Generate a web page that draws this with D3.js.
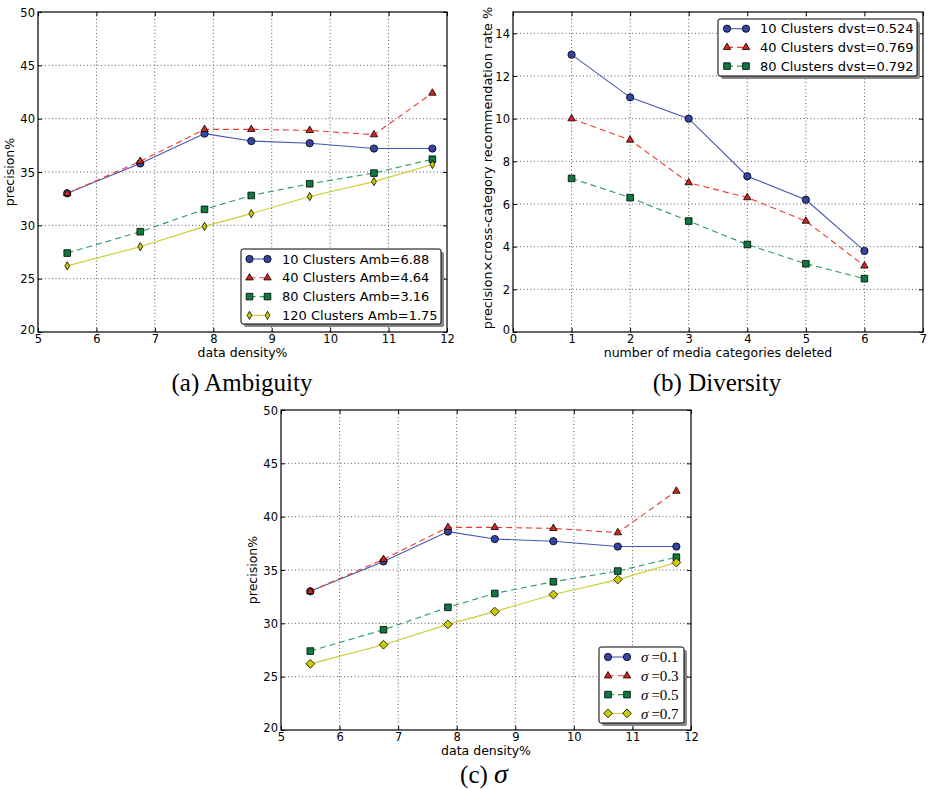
<!DOCTYPE html>
<html>
<head>
<meta charset="utf-8">
<script src="https://cdn.jsdelivr.net/npm/d3@7"></script>
<style>
  html, body { margin: 0; padding: 0; background: #fff; }
  svg { display: block; }
  .tick text { font-family: "DejaVu Sans", sans-serif; }
</style>
</head>
<body>
<svg id="chart" width="929" height="789"></svg>
<script>
// ---------- data ----------
const xDensity = [5.5, 6.75, 7.85, 8.65, 9.65, 10.75, 11.75];
const prec10 = [33.0, 35.8, 38.6, 37.9, 37.7, 37.2, 37.2];
const prec40 = [33.0, 36.0, 39.0, 39.0, 38.9, 38.5, 42.4];
const prec80 = [27.4, 29.4, 31.5, 32.8, 33.9, 34.9, 36.2];
const prec120 = [26.2, 28.0, 29.9, 31.1, 32.7, 34.1, 35.7];

const xDeleted = [1, 2, 3, 4, 5, 6];
const div10 = [13.0, 11.0, 10.0, 7.3, 6.2, 3.8];
const div40 = [10.0, 9.0, 7.0, 6.3, 5.2, 3.1];
const div80 = [7.2, 6.3, 5.2, 4.1, 3.2, 2.5];

const sig01 = [33.0, 35.8, 38.6, 37.9, 37.7, 37.2, 37.2];
const sig03 = [33.0, 36.0, 39.0, 39.0, 38.9, 38.5, 42.4];
const sig05 = [27.4, 29.4, 31.5, 32.8, 33.9, 34.9, 36.2];
const sig07 = [26.2, 28.0, 29.9, 31.1, 32.7, 34.1, 35.7];

const ticksDensity = [5, 6, 7, 8, 9, 10, 11, 12];
const ticksPrec = [20, 25, 30, 35, 40, 45, 50];
const ticksDeleted = [0, 1, 2, 3, 4, 5, 6, 7];
const ticksDiv = [0, 2, 4, 6, 8, 10, 12, 14];

const labelsA = ["10 Clusters Amb=6.88", "40 Clusters Amb=4.64", "80 Clusters Amb=3.16", "120 Clusters Amb=1.75"];
const labelsB = ["10 Clusters dvst=0.524", "40 Clusters dvst=0.769", "80 Clusters dvst=0.792"];
const labelsC = ["0.1", "0.3", "0.5", "0.7"];

// ---------- styles ----------
const thinDiamond = {
  draw(ctx, size) {
    const h = Math.sqrt(size) * 0.62, w = h * 0.58;
    ctx.moveTo(0, -h); ctx.lineTo(w, 0); ctx.lineTo(0, h); ctx.lineTo(-w, 0); ctx.closePath();
  }
};
const squareDiamond = {
  draw(ctx, size) {
    const h = Math.sqrt(size) * 0.62;
    ctx.moveTo(0, -h); ctx.lineTo(h, 0); ctx.lineTo(0, h); ctx.lineTo(-h, 0); ctx.closePath();
  }
};
const S = {
  blue:   { line: "#4656b4", fill: "#3444a6", dash: null,  sym: d3.symbolCircle,   size: 42 },
  red:    { line: "#ee3b33", fill: "#d8231a", dash: "6,4", sym: d3.symbolTriangle, size: 24 },
  green:  { line: "#2b9a5e", fill: "#0b7a3c", dash: "6,4", sym: d3.symbolSquare,   size: 44 },
  yellowThin: { line: "#cccc30", fill: "#cccc00", dash: null, sym: thinDiamond,    size: 44 },
  yellow: { line: "#cccc30", fill: "#cccc00", dash: null,  sym: squareDiamond,    size: 50 }
};

const svg = d3.select("#chart");

function panel(opt) {
  const g = svg.append("g");
  const x = d3.scaleLinear().domain(opt.xDomain).range([opt.left, opt.right]);
  const y = d3.scaleLinear().domain(opt.yDomain).range([opt.bottom, opt.top]);
  const fmt = d3.format("d");

  // grid
  const grid = g.append("g").attr("stroke", "#333").attr("stroke-width", 0.8).attr("stroke-dasharray", "1,2.5");
  opt.xTicks.forEach(t => {
    if (t === opt.xDomain[0] || t === opt.xDomain[1]) return;
    grid.append("line").attr("x1", x(t)).attr("x2", x(t)).attr("y1", opt.top).attr("y2", opt.bottom);
  });
  opt.yTicks.forEach(t => {
    if (t === opt.yDomain[0] || t === opt.yDomain[1]) return;
    grid.append("line").attr("x1", opt.left).attr("x2", opt.right).attr("y1", y(t)).attr("y2", y(t));
  });

  // axes with inward ticks on all four sides
  const fs = "11.5px";
  const bottomAx = g.append("g").attr("transform", `translate(0,${opt.bottom})`)
    .call(d3.axisBottom(x).tickValues(opt.xTicks).tickFormat(fmt).tickSizeInner(-4).tickSizeOuter(0).tickPadding(3));
  const topAx = g.append("g").attr("transform", `translate(0,${opt.top})`)
    .call(d3.axisTop(x).tickValues(opt.xTicks).tickSizeInner(-4).tickSizeOuter(0).tickFormat(""));
  const leftAx = g.append("g").attr("transform", `translate(${opt.left},0)`)
    .call(d3.axisLeft(y).tickValues(opt.yTicks).tickFormat(fmt).tickSizeInner(-4).tickSizeOuter(0).tickPadding(3));
  const rightAx = g.append("g").attr("transform", `translate(${opt.right},0)`)
    .call(d3.axisRight(y).tickValues(opt.yTicks).tickSizeInner(-4).tickSizeOuter(0).tickFormat(""));
  [bottomAx, topAx, leftAx, rightAx].forEach(a => {
    a.select(".domain").remove();
    a.selectAll(".tick line").attr("stroke", "#000").attr("stroke-width", 1);
    a.selectAll(".tick text").attr("font-size", fs).attr("fill", "#000");
  });
  leftAx.selectAll(".tick text").attr("dy", "0.35em");
  leftAx.selectAll(".tick").filter(d => d === opt.yDomain[0]).select("text").attr("dy", "0.1em");

  // frame
  g.append("rect").attr("x", opt.left).attr("y", opt.top)
    .attr("width", opt.right - opt.left).attr("height", opt.bottom - opt.top)
    .attr("fill", "none").attr("stroke", "#000").attr("stroke-width", 1.2);

  // series
  const line = d3.line().x(d => x(d[0])).y(d => y(d[1]));
  opt.series.forEach(s => {
    const pts = opt.xs.map((xv, i) => [xv, s.values[i]]);
    g.append("path").datum(pts).attr("d", line).attr("fill", "none")
      .attr("stroke", s.st.line).attr("stroke-width", 1.1)
      .attr("stroke-dasharray", s.st.dash);
  });
  opt.series.forEach(s => {
    const pts = opt.xs.map((xv, i) => [xv, s.values[i]]);
    g.selectAll(null).data(pts).enter().append("path")
      .attr("d", d3.symbol().type(s.st.sym).size(s.st.size))
      .attr("transform", d => `translate(${x(d[0])},${y(d[1])})`)
      .attr("fill", s.st.fill).attr("stroke", "#000").attr("stroke-width", 0.8);
  });

  // axis labels
  g.append("text").attr("x", (opt.left + opt.right) / 2).attr("y", opt.bottom + 25)
    .attr("text-anchor", "middle").attr("font-family", "DejaVu Sans, sans-serif")
    .attr("font-size", "12.5px").text(opt.xLabel);
  g.append("text").attr("transform", `translate(${opt.yLabelX},${opt.yLabelY}) rotate(-90)`)
    .attr("text-anchor", "middle").attr("font-family", "DejaVu Sans, sans-serif")
    .attr("font-size", opt.yLabelSize || "12.5px").text(opt.yLabel);

  // legend
  const L = opt.legend;
  const lg = g.append("g");
  lg.append("rect").attr("x", L.x + 3).attr("y", L.y + 3).attr("width", L.w).attr("height", L.h)
    .attr("fill", "#888").attr("rx", 2);
  lg.append("rect").attr("x", L.x).attr("y", L.y).attr("width", L.w).attr("height", L.h)
    .attr("fill", "#fff").attr("stroke", "#000").attr("stroke-width", 1).attr("rx", 2);
  opt.series.forEach((s, i) => {
    const yy = L.y + L.row0 + i * L.step;
    lg.append("line").attr("x1", L.mx1).attr("x2", L.mx2).attr("y1", yy).attr("y2", yy)
      .attr("stroke", s.st.line).attr("stroke-width", 1.1).attr("stroke-dasharray", s.st.dash);
    [L.mx1, L.mx2].forEach(mx => {
      lg.append("path").attr("d", d3.symbol().type(s.st.sym).size(s.st.size))
        .attr("transform", `translate(${mx},${yy})`)
        .attr("fill", s.st.fill).attr("stroke", "#000").attr("stroke-width", 0.8);
    });
    L.text(lg, L.tx, yy, s.label);
  });

  // caption
  opt.caption(g);
}

function sansLegendText(fs) {
  return (lg, x, y, label) => {
    lg.append("text").attr("x", x).attr("y", y).attr("dy", "0.36em")
      .attr("font-family", "DejaVu Sans, sans-serif").attr("font-size", fs).text(label);
  };
}
function captionText(cx, cy, label) {
  return g => g.append("text").attr("x", cx).attr("y", cy)
    .attr("text-anchor", "middle").attr("font-family", "Liberation Serif, serif")
    .attr("font-size", "25px").text(label);
}

// (a) Ambiguity
panel({
  left: 38, right: 447, top: 12, bottom: 332,
  xDomain: [5, 12], yDomain: [20, 50], xTicks: ticksDensity, yTicks: ticksPrec,
  xs: xDensity,
  series: [
    { values: prec10, st: S.blue, label: labelsA[0] },
    { values: prec40, st: S.red, label: labelsA[1] },
    { values: prec80, st: S.green, label: labelsA[2] },
    { values: prec120, st: S.yellowThin, label: labelsA[3] }
  ],
  xLabel: "data density%", yLabel: "precision%", yLabelX: 14, yLabelY: 172,
  legend: { x: 241, y: 249, w: 200, h: 75, row0: 10, step: 18.8, mx1: 249.5, mx2: 267.5, tx: 282,
            text: sansLegendText("13px") },
  caption: captionText(242, 391, "(a) Ambiguity")
});

// (b) Diversity
panel({
  left: 513, right: 923, top: 12, bottom: 332,
  xDomain: [0, 7], yDomain: [0, 15], xTicks: ticksDeleted, yTicks: ticksDiv,
  xs: xDeleted,
  series: [
    { values: div10, st: S.blue, label: labelsB[0] },
    { values: div40, st: S.red, label: labelsB[1] },
    { values: div80, st: S.green, label: labelsB[2] }
  ],
  xLabel: "number of media categories deleted",
  yLabel: "precision×cross-category recommendation rate %", yLabelX: 492, yLabelY: 168,
  yLabelSize: "12.8px",
  legend: { x: 718, y: 19, w: 199, h: 57, row0: 9.7, step: 18.7, mx1: 727, mx2: 746, tx: 760,
            text: sansLegendText("13px") },
  caption: captionText(717, 391, "(b) Diversity")
});

// (c) sigma
panel({
  left: 281, right: 691, top: 410, bottom: 730,
  xDomain: [5, 12], yDomain: [20, 50], xTicks: ticksDensity, yTicks: ticksPrec,
  xs: xDensity,
  series: [
    { values: sig01, st: S.blue, label: labelsC[0] },
    { values: sig03, st: S.red, label: labelsC[1] },
    { values: sig05, st: S.green, label: labelsC[2] },
    { values: sig07, st: S.yellow, label: labelsC[3] }
  ],
  xLabel: "data density%", yLabel: "precision%", yLabelX: 257, yLabelY: 570,
  legend: { x: 599, y: 647, w: 85, h: 76, row0: 10, step: 18.8, mx1: 608, mx2: 627, tx: 641,
            text: (lg, x, y, label) => {
              const t = lg.append("text").attr("x", x).attr("y", y).attr("dy", "0.36em")
                .attr("font-family", "Liberation Serif, serif").attr("font-size", "15px");
              t.append("tspan").attr("font-style", "italic").text("σ");
              t.append("tspan").attr("dx", 3).text("=" + label);
            } },
  caption: g => {
    const t = g.append("text").attr("x", 484).attr("y", 783)
      .attr("text-anchor", "middle").attr("font-family", "Liberation Serif, serif")
      .attr("font-size", "25px");
    t.append("tspan").text("(c) ");
    t.append("tspan").attr("font-style", "italic").attr("font-size", "28px").text("σ");
  }
});
</script>
</body>
</html>
